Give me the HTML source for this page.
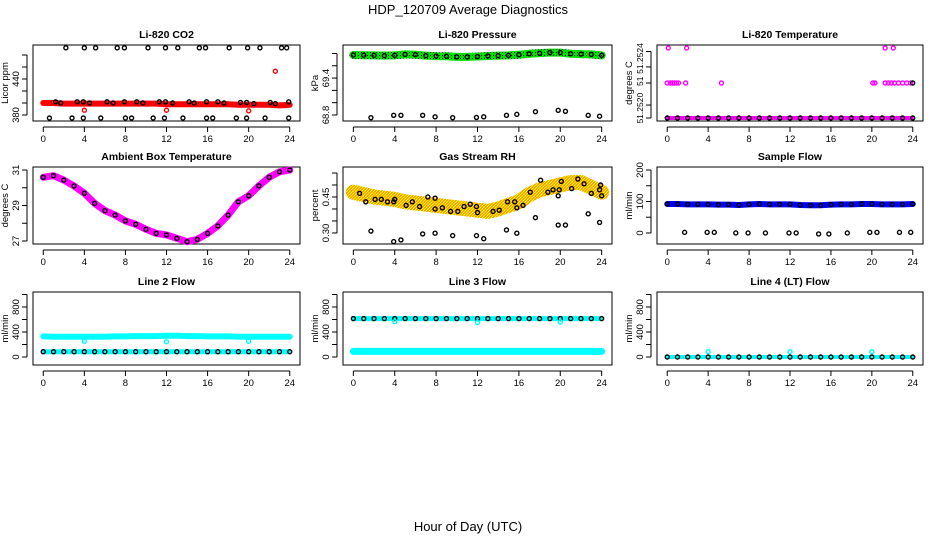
<!DOCTYPE html>
<html><head><meta charset="utf-8"><style>
html,body{margin:0;padding:0;background:#fff;}
svg{display:block;font-family:"Liberation Sans",sans-serif;}
</style></head><body>
<svg id="chart" width="936" height="540" viewBox="0 0 936 540">
<defs>
<pattern id="rhpat" width="3" height="3" patternUnits="userSpaceOnUse"><rect width="3" height="3" fill="#ffa500"/><rect x="0" y="0" width="1" height="1" fill="#ffff00"/><rect x="2" y="1" width="1" height="1" fill="#ffff00"/><rect x="1" y="2" width="1" height="1" fill="#ffff00"/></pattern>
<pattern id="prpat" width="3" height="3" patternUnits="userSpaceOnUse"><rect width="3" height="3" fill="#00e000"/><rect x="1" y="1" width="1" height="1" fill="#222"/></pattern>
</defs>
<text x="468" y="14" text-anchor="middle" font-size="13">HDP_120709  Average Diagnostics</text>
<text x="468" y="531" text-anchor="middle" font-size="13">Hour of Day (UTC)</text>
</svg>
<script>
// ---- data ----
const hours = [0,1,2,3,4,5,6,7,8,9,10,11,12,13,14,15,16,17,18,19,20,21,22,23,24];
const co2Band = [400,400,399,399,399,399,399,399,399,399,399,399,398,398,398,398,398,398,398,397,397,397,397,396,397];
const co2TopHours = [2.2,4.0,5.1,7.2,7.9,10.2,11.9,13.1,15.2,15.8,18.1,19.9,21.1,23.2,23.7];
const co2TopVals = [492,492,492,492,492,492,492,492,492,492,492,492,492,492,492];
const co2MidHours = [1.2,1.7,3.3,3.9,4.5,6.2,6.8,7.9,9.1,9.7,11.3,11.9,12.6,14.2,14.7,15.9,17.0,17.6,19.2,19.8,20.5,22.1,22.6,23.9];
const co2MidVals = [402,400,402,402,400,402,400,402,402,400,402,402,400,402,400,402,402,400,401,401,399,401,399,402];
const co2LowHours = [0.6,2.8,3.9,5.6,8.0,8.6,10.7,11.8,13.6,15.9,16.5,18.8,19.8,21.6,23.9];
const co2LowVals = [375,375,375,375,375,375,375,375,375,375,375,375,375,375,375];
const co2RedHours = [4.0,12.0,20.0,22.6];
const co2RedVals = [388,388,387,453];

const presBand = [69.775,69.772,69.77,69.765,69.77,69.785,69.78,69.765,69.758,69.755,69.745,69.745,69.75,69.76,69.765,69.77,69.78,69.795,69.805,69.815,69.815,69.795,69.79,69.785,69.77];
const presLowHours = [1.7,3.9,4.6,6.7,7.9,9.6,11.9,12.6,14.8,15.8,17.6,19.8,20.5,22.7,23.8];
const presLowVals = [68.756,68.795,68.795,68.795,68.77,68.756,68.76,68.77,68.795,68.81,68.854,68.876,68.86,68.795,68.78];

const tempLevelHours = [0.1,1.9,21.3,22.1];
const tempTopVals = [2,2,2,2];
const tempMidHours = [0,0.3,0.5,0.7,0.9,1.1,1.8,5.3,20.1,20.3,21.3,21.6,21.9,22.2,22.6,23.0,23.4,23.8];
const tempMidVals = [1,1,1,1,1,1,1,1,1,1,1,1,1,1,1,1,1,1];
const tempBand = [0,0,0,0,0,0,0,0,0,0,0,0,0,0,0,0,0,0,0,0,0,0,0,0,0];

const ambVals = [30.59,30.68,30.43,30.1,29.69,29.12,28.71,28.46,28.13,27.94,27.66,27.43,27.34,27.15,26.96,27.09,27.43,27.85,28.46,29.21,29.55,30.11,30.59,30.9,31.0];

const rhBand = [0.47,0.46,0.45,0.445,0.44,0.43,0.425,0.42,0.415,0.41,0.405,0.40,0.395,0.39,0.40,0.415,0.43,0.46,0.48,0.49,0.50,0.51,0.51,0.49,0.47];
const rhMidHours = [0.6,1.2,2.1,2.7,3.3,3.9,4.0,5.1,5.7,6.4,7.2,7.9,7.9,8.6,9.4,10.1,10.7,11.3,11.9,12.0,13.5,14.1,14.9,15.6,15.8,16.4,17.1,18.1,18.8,19.3,19.8,19.9,20.1,21.1,21.7,22.3,23.0,23.8,23.9,24.0];
const rhMidVals = [0.465,0.43,0.44,0.44,0.43,0.43,0.44,0.415,0.43,0.41,0.45,0.445,0.40,0.405,0.39,0.39,0.41,0.42,0.41,0.385,0.39,0.395,0.43,0.43,0.405,0.415,0.47,0.52,0.47,0.48,0.455,0.48,0.515,0.485,0.525,0.505,0.465,0.48,0.50,0.455];
const rhLowVals = [0.308,0.264,0.271,0.296,0.299,0.289,0.289,0.276,0.3125,0.299,0.364,0.333,0.333,0.38,0.344];

const flowBand = [92,92,91,91,91,90,90,89,91,92,91,91,91,89,88,88,90,91,91,92,92,91,91,91,92];
const flowLowVals = [2,2,2,0,0,0,0,0,-3,-3,0,2,2,2,2];

const l2Cyan = [330,325,325,325,325,325,325,330,330,335,335,335,340,340,335,335,330,330,330,325,325,325,325,325,325];
const l2Black = [85,85,85,85,85,85,85,85,85,85,85,85,85,85,85,85,85,85,85,85,85,85,85,85,85];
const spikeHours = [4.0,12.0,20.0];
const l2SpikeVals = [250,245,250];
const l3Black = [615,615,615,615,615,615,615,615,615,615,615,615,615,615,615,615,615,615,615,615,615,615,615,615,615];
const l3Cyan = [90,90,90,90,90,90,90,90,90,90,90,90,90,90,90,90,90,90,90,90,90,90,90,90,90];
const l3SpikeVals = [565,550,560];
const l4Black = [0,0,0,0,0,0,0,0,0,0,0,0,0,0,0,0,0,0,0,0,0,0,0,0,0];
const l4SpikeVals = [85,85,85];

// ---- drawing ----
const NS = "http://www.w3.org/2000/svg";
const svg = document.getElementById('chart');
function mk(tag, attrs, parent){const e=document.createElementNS(NS,tag);for(const k in attrs)e.setAttribute(k,attrs[k]);(parent||svg).appendChild(e);return e;}
const cols=[[33,300],[343,612],[657,923]];
const rows=[[45,121],[167,244],[292,365]];

function panel(ci, ri, name, title, ylab, ymin, ymax, ticks, labels, lfs){
  const [L,R]=cols[ci],[T,B]=rows[ri];
  const g=mk('g',{});
  
  
  const xs=h=>L+(h+1)/26*(R-L);
  const ys=v=>B-(v-ymin)/(ymax-ymin)*(B-T);
  const box=mk('rect',{x:L,y:T,width:R-L,height:B-T,fill:'none',stroke:'#000','stroke-width':1},g);
  
  
  const tt=mk('text',{x:(L+R)/2,y:T-7,'text-anchor':'middle','font-size':10.5,'font-weight':'bold'},g);
  tt.textContent=title;
  
  
  const xa=mk('g',{},g);
  
  
  mk('line',{x1:xs(0),x2:xs(24),y1:B+6,y2:B+6,stroke:'#000'},xa);
  for(let h=0;h<=24;h+=4){
    mk('line',{x1:xs(h),x2:xs(h),y1:B+6,y2:B+11,stroke:'#000'},xa);
    const t=mk('text',{x:xs(h),y:B+21,'text-anchor':'middle','font-size':9.5},xa);
    t.textContent=String(h);
    
    
  }
  const ya=mk('g',{},g);
  
  
  mk('line',{x1:L-6,x2:L-6,y1:ys(ticks[0]),y2:ys(ticks[ticks.length-1]),stroke:'#000'},ya);
  ticks.forEach(v=>mk('line',{x1:L-11,x2:L-6,y1:ys(v),y2:ys(v),stroke:'#000'},ya));
  labels.forEach(([v,s])=>{
    const t=mk('text',{x:0,y:0,'text-anchor':'middle','font-size':lfs||9.5,transform:`translate(${L-14},${ys(v)}) rotate(-90)`},ya);
    t.textContent=s;
    
    
  });
  const yt=mk('text',{x:0,y:0,'text-anchor':'middle','font-size':9.5,transform:`translate(${L-25},${(T+B)/2}) rotate(-90)`},g);
  yt.textContent=ylab;
  
  
  const clip=mk('g',{},g);
  return {
    band(hs,vs,color,w,sname){
      const p=mk('polyline',{points:hs.map((h,i)=>xs(h)+','+ys(vs[i])).join(' '),fill:'none',stroke:color,'stroke-width':w,'stroke-linejoin':'round','stroke-linecap':'round'},clip);
      
      
    },
    pts(hs,vs,color,sname,r){
      hs.forEach((h,i)=>{
        const c=mk('circle',{cx:xs(h),cy:ys(vs[i]),r:r||2,fill:'none',stroke:color,'stroke-width':1.4},clip);
        
        
      });
    }
  };
}

let p=panel(0,0,'co2','Li-820 CO2','Licor ppm',370,496.7,[380,400,420,440,460,480],[[380,'380'],[440,'440']]);
p.band(hours,co2Band,'#ff0000',6,'co2-band');
p.pts(co2RedHours,co2RedVals,'#ff0000','co2-red-point');
p.pts(co2TopHours,co2TopVals,'#000','co2-high-point');
p.pts(co2MidHours,co2MidVals,'#000','co2-mid-point');
p.pts(co2LowHours,co2LowVals,'#000','co2-low-point');

p=panel(1,0,'pressure','Li-820 Pressure','kPa',68.702,69.938,[68.8,69.0,69.2,69.4,69.6,69.8],[[68.8,'68.8'],[69.4,'69.4']]);
p.band(hours,presBand,'url(#prpat)',8,'pressure-band');
p.pts(hours,presBand,'#000','pressure-point');
p.pts(presLowHours,presLowVals,'#000','pressure-low-point');

p=panel(2,0,'li820-temp','Li-820 Temperature','degrees C',-0.086,2.086,[0,0.37,1,1.46,1.9],[[0.28,'51.2520'],[1.05,'51'],[1.7,'51.2524']],8.5);
p.band(hours,tempBand,'#ff00ff',4,'temp-band');
p.pts(hours,tempBand,'#000','temp-point');
p.pts(tempMidHours,tempMidVals,'#ff00ff','temp-mid-point');
p.pts([24],[1],'#000','temp-end-point');
p.pts(tempLevelHours,tempTopVals,'#ff00ff','temp-high-point');

p=panel(0,1,'ambient','Ambient Box Temperature','degrees C',26.83,31.17,[27,28,29,30,31],[[27,'27'],[29,'29'],[31,'31']]);
p.band(hours,ambVals,'#ff00ff',7,'ambient-band');
p.pts(hours,ambVals,'#000','ambient-point');

p=panel(1,1,'rh','Gas Stream RH','percent',0.254,0.575,[0.30,0.35,0.40,0.45,0.50,0.55],[[0.30,'0.30'],[0.45,'0.45']]);
p.band(hours,rhBand,'url(#rhpat)',15,'rh-band');
p.pts(rhMidHours,rhMidVals,'#000','rh-point');
p.pts(presLowHours,rhLowVals,'#000','rh-low-point');

p=panel(2,1,'sample-flow','Sample Flow','ml/min',-35,209.5,[0,50,100,150,200],[[0,'0'],[100,'100'],[200,'200']]);
p.band(hours,flowBand,'#0000ff',6,'sample-flow-band');
p.pts(hours,flowBand,'#000','sample-flow-point');
p.pts(presLowHours,flowLowVals,'#000','sample-flow-low-point');

const fT=[0,200,400,600,800,1000], fL=[[0,'0'],[400,'400'],[800,'800']];
p=panel(0,2,'line2','Line 2 Flow','ml/min',-128,1040,fT,fL);
p.band(hours,l2Cyan,'#00ffff',6,'line2-cyan-band');
p.band(hours,l2Black,'#00ffff',5,'line2-cyan-low-band');
p.pts(hours,l2Black,'#000','line2-point');
p.pts(spikeHours,l2SpikeVals,'#00ffff','line2-dip-point');

p=panel(1,2,'line3','Line 3 Flow','ml/min',-128,1040,fT,fL);
p.band(hours,l3Cyan,'#00ffff',7,'line3-cyan-band');
p.band(hours,l3Black,'#00ffff',5,'line3-high-band');
p.pts(hours,l3Black,'#000','line3-point');
p.pts(spikeHours,l3SpikeVals,'#00ffff','line3-dip-point');

p=panel(2,2,'line4','Line 4 (LT) Flow','ml/min',-128,1040,fT,fL);
p.band(hours,l4Black,'#00ffff',4,'line4-band');
p.pts(hours,l4Black,'#000','line4-point');
p.pts(spikeHours,l4SpikeVals,'#00ffff','line4-spike-point');
</script>
</body></html>
